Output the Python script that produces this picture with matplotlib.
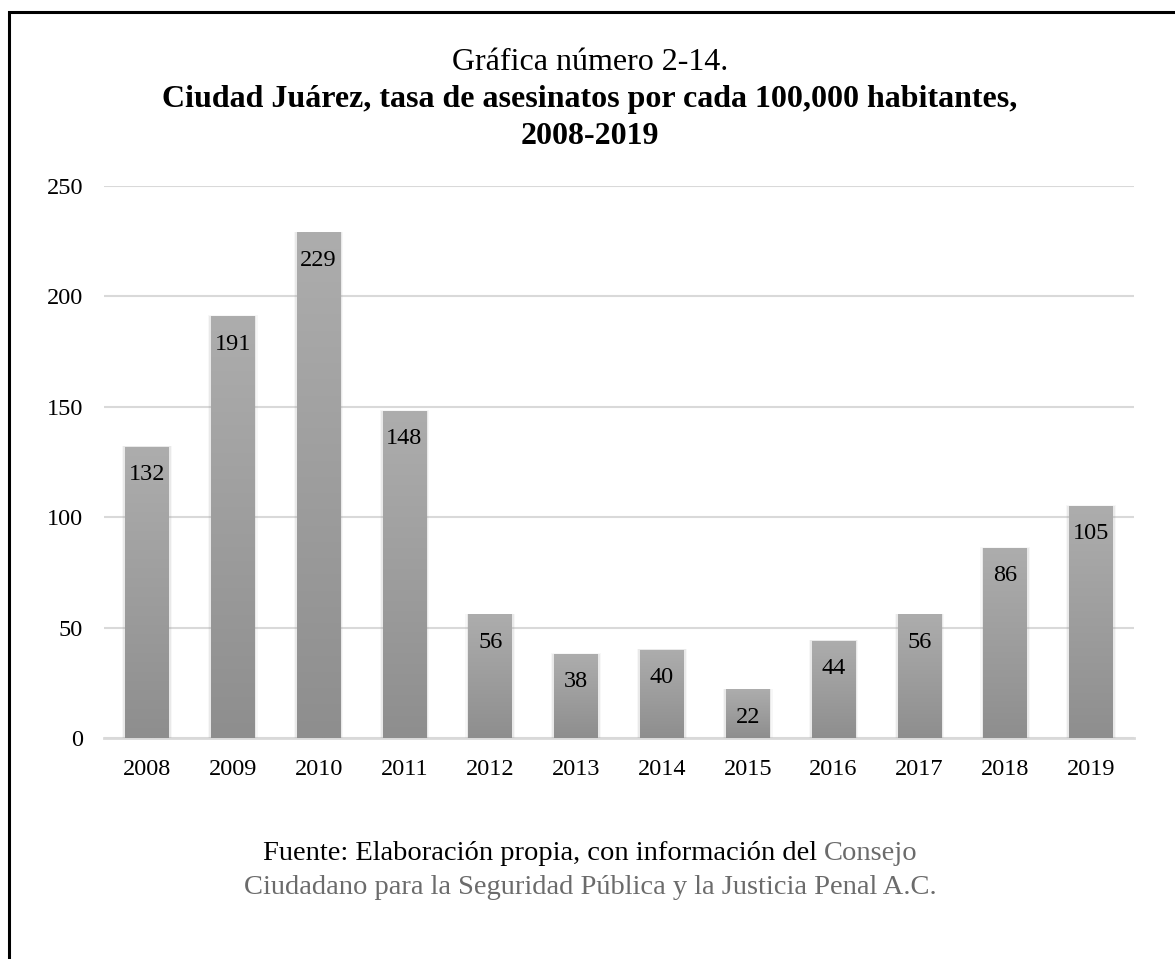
import matplotlib.pyplot as plt
import numpy as np
from matplotlib.patches import Rectangle

# datos
anios = ["2008", "2009", "2010", "2011", "2012", "2013", "2014", "2015", "2016", "2017", "2018", "2019"]
tasas = [132, 191, 229, 148, 56, 38, 40, 22, 44, 56, 86, 105]
y_ticks = [0, 50, 100, 150, 200, 250]

plt.rcParams['font.family'] = ['Liberation Serif', 'DejaVu Serif']

fig = plt.figure(figsize=(11.75, 9.59), dpi=100)
ax = fig.add_axes([104/1175, 1 - 738/959, (1134 - 104)/1175, (738 - 186)/959])

x = np.arange(len(anios))
ancho = 0.51

# degradado de cada barra (claro arriba, oscuro abajo)
grad = np.linspace(0, 1, 256).reshape(-1, 1)
cmap = plt.matplotlib.colors.LinearSegmentedColormap.from_list("g", ["#8e8e8e", "#adadad"])

bars = ax.bar(x, tasas, width=ancho, color="#a0a0a0", zorder=3)
for b in bars:
    x0, w, h = b.get_x(), b.get_width(), b.get_height()
    # sombra suave
    for k, a in [(0.07, 0.08), (0.04, 0.14)]:
        ax.add_patch(Rectangle((x0 - k/2, 0), w + k, h + k * 5, color="#9a9a9a",
                               alpha=a, lw=0, zorder=2))
    im = ax.imshow(grad, extent=[x0, x0 + w, 0, h], origin="lower", cmap=cmap,
                   aspect="auto", zorder=4)
    im.set_clip_path(b)

for xi, v in zip(x, tasas):
    ax.annotate(str(v), (xi, v), xytext=(0, -20), textcoords="offset points",
                ha="center", va="center", fontsize=17.5, color="black", zorder=5)

ax.set_xlim(-0.5, len(anios) - 0.5)
ax.set_ylim(0, 250)
ax.set_yticks(y_ticks)
ax.set_xticks(x)
ax.set_xticklabels(anios)
ax.tick_params(axis="both", length=0, labelsize=17.5)
ax.tick_params(axis="y", pad=15)
ax.tick_params(axis="x", pad=15)
ax.grid(axis="y", color="#d9d9d9", linewidth=1.5, zorder=0)
ax.set_axisbelow(True)
for s in ["top", "right", "left"]:
    ax.spines[s].set_visible(False)
ax.spines["bottom"].set_color("#d9d9d9")
ax.spines["bottom"].set_linewidth(2)
ax.spines["bottom"].set_zorder(1)

# titulo
fig.text(590/1175, 1 - 63/959, "Gráfica número 2-14.", ha="center", va="center", fontsize=23)
fig.text(590/1175, 1 - 99/959, "Ciudad Juárez, tasa de asesinatos por cada 100,000 habitantes,",
         ha="center", va="center", fontsize=23, fontweight="bold")
fig.text(590/1175, 1 - 136/959, "2008-2019", ha="center", va="center", fontsize=23, fontweight="bold")

# fuente
gris = "#6b6b6b"
t1 = fig.text(0, 1 - 854/959, "Fuente: Elaboración propia, con información del ", ha="left",
              va="center", fontsize=20.5, color="black")
t2 = fig.text(0, 1 - 854/959, "Consejo", ha="left", va="center", fontsize=20.5, color=gris)
fig.canvas.draw()
r = fig.canvas.get_renderer()
w1 = t1.get_window_extent(r).width
w2 = t2.get_window_extent(r).width
inicio = 590 - (w1 + w2) / 2
t1.set_x(inicio / 1175)
t2.set_x((inicio + w1) / 1175)
fig.text(590/1175, 1 - 887/959, "Ciudadano para la Seguridad Pública y la Justicia Penal A.C.",
         ha="center", va="center", fontsize=20.5, color=gris)

# marco
fig.patches.append(Rectangle((9/1175, -0.1), 1.2, 1 - 12/959 + 0.1, transform=fig.transFigure,
                             fill=False, edgecolor="black", linewidth=2.2))

fig.savefig("out.png", dpi=100)
